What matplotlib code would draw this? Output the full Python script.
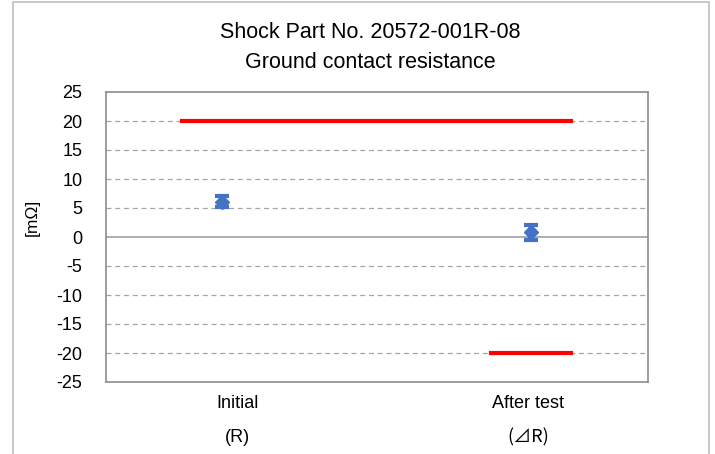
import matplotlib.pyplot as plt
from matplotlib.patches import Rectangle
from matplotlib import font_manager

# data
categories = ["Initial", "After test"]
sub_labels = ["(R)", "(\u22BFR)"]
avg_vals = [6.1, 0.8]
max_vals = [7.1, 2.1]
min_vals = [5.2, -0.6]
upper_limit = 20
lower_limit = -20
upper_span = [0.87, 2.13]
lower_span = [1.87, 2.13]
cat_x = [1, 2]
label_x = [1.05, 1.99]
y_ticks = list(range(-25, 30, 5))

fams = [f.name for f in font_manager.fontManager.ttflist]
if "Liberation Sans Narrow" in fams:
    plt.rcParams['font.family'] = ['Liberation Sans Narrow', 'DejaVu Sans']
else:
    plt.rcParams['font.family'] = ['Liberation Sans', 'DejaVu Sans']
plt.rcParams['axes.unicode_minus'] = False

fig = plt.figure(figsize=(7.15, 4.54), dpi=100)
ax = fig.add_axes([106 / 715, 1 - 382 / 454, (648 - 106) / 715, (382 - 92) / 454])

# outer chart border
fig.patches.append(Rectangle((13 / 715, -0.1), (709 - 13) / 715, 1.1 - 2 / 454,
                             transform=fig.transFigure, fill=False,
                             edgecolor='#bfbfbf', linewidth=1.2))

for y in y_ticks:
    if y == 0:
        ax.axhline(y, color='#a0a0a0', linewidth=1.2, zorder=1)
    elif y not in (-25, 25):
        ax.axhline(y, color='#a6a6a6', linewidth=0.9, linestyle=(0, (4, 3)), zorder=1)

ax.plot(upper_span, [upper_limit, upper_limit], color='#ff0000', linewidth=3, zorder=3)
ax.plot(lower_span, [lower_limit, lower_limit], color='#ff0000', linewidth=3, zorder=3)

yerr = [[a - lo for a, lo in zip(avg_vals, min_vals)],
        [hi - a for a, hi in zip(avg_vals, max_vals)]]
ax.errorbar(cat_x, avg_vals, yerr=yerr, fmt='D', color='#4472c4', markersize=7,
            elinewidth=4, capsize=5, capthick=3, zorder=4)

ax.set_xlim(0.625, 2.379)
ax.set_ylim(-25, 25)
ax.set_yticks(y_ticks)
ax.set_xticks(label_x)
ax.set_xticklabels(categories, fontsize=13)
ax.tick_params(axis='both', length=0, labelsize=13)
ax.tick_params(axis='x', pad=9)
ax.tick_params(axis='y', pad=17)
for x, s in zip(label_x, sub_labels):
    kw = {}
    if "\u22BF" in s:
        kw['family'] = ['Noto Sans CJK JP', 'DejaVu Sans']
    ax.annotate(s, xy=(x, 0), xycoords=('data', 'axes fraction'),
                xytext=(0, -40), textcoords='offset points',
                ha='center', va='center', fontsize=13, **kw)

for sp in ax.spines.values():
    sp.set_color('#8c8c8c')
    sp.set_linewidth(1.2)

ax.set_ylabel("[m\u03a9]", fontsize=12.5)
ax.yaxis.set_label_coords(-0.122, 0.566)
fig.text(370 / 715, 1 - 32 / 454, "Shock Part No. 20572-001R-08",
         ha='center', va='center', fontsize=15.5)
fig.text(370 / 715, 1 - 62 / 454, "Ground contact resistance",
         ha='center', va='center', fontsize=15.5)

fig.savefig('out.png', dpi=100)
